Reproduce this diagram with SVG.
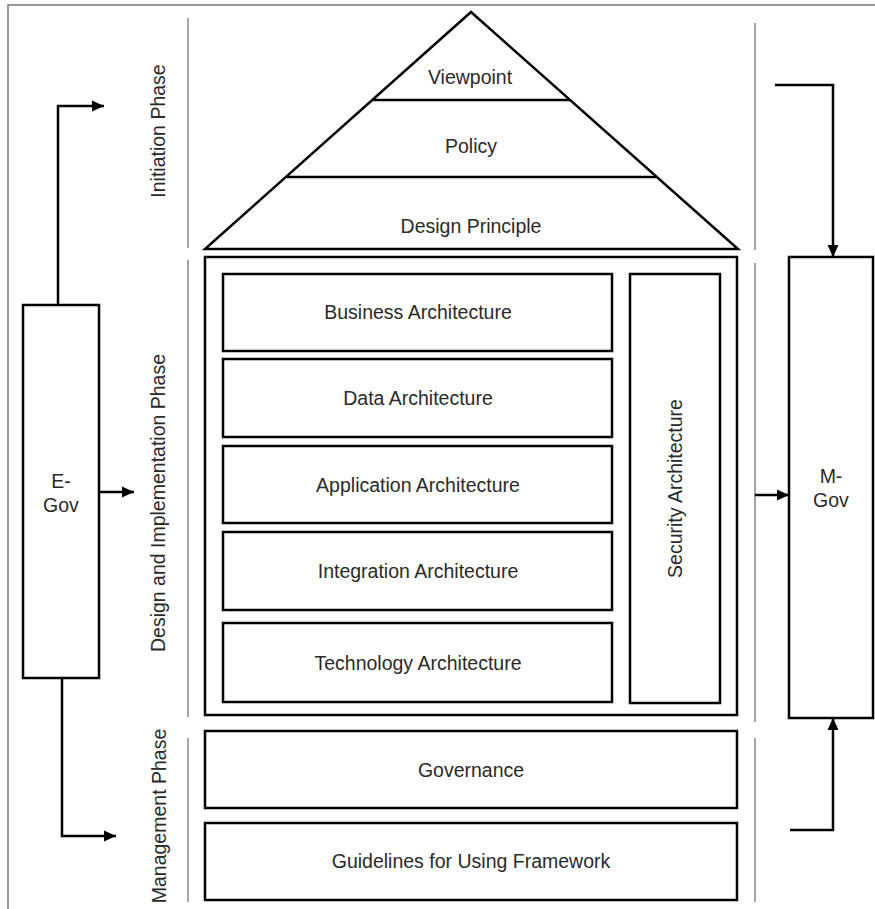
<svg xmlns="http://www.w3.org/2000/svg" width="875" height="909" viewBox="0 0 875 909">
  <style>
    .box { fill: #ffffff; stroke: #000000; stroke-width: 2.5; }
    .frame { fill: none; stroke: #777777; stroke-width: 1.5; }
    .sep { fill: none; stroke: #888888; stroke-width: 1.5; }
    .edge { fill: none; stroke: #000000; stroke-width: 2.5; }
    .lbl { font-family: "Liberation Sans", Arial, sans-serif; font-size: 19.5px; fill: #2a2a2a; text-anchor: middle; }
  </style>
  <defs>
    <marker id="arrow" markerUnits="userSpaceOnUse" markerWidth="14" markerHeight="14" viewBox="0 0 14 14" refX="12" refY="7" orient="auto">
      <path d="M0,1.5 L12,7 L0,12.5 Z" fill="#000000"/>
    </marker>
  </defs>

  <rect width="875" height="909" fill="#ffffff"/>

  <!-- outer frame (top and left edges) -->
  <path class="frame" d="M8,909 V5 H875"/>

  <!-- phase separators -->
  <g id="separators">
    <path class="sep" d="M188,18 V248 M188,260 V717 M188,738 V902"/>
    <path class="sep" d="M755,23 V250 M755,263 V722 M755,738 V902"/>
  </g>

  <!-- phase labels -->
  <g id="phase-labels">
    <text class="lbl" transform="translate(165,131) rotate(-90)">Initiation Phase</text>
    <text class="lbl" transform="translate(165,503) rotate(-90)">Design and Implementation Phase</text>
    <text class="lbl" transform="translate(166,816) rotate(-90)">Management Phase</text>
  </g>

  <!-- roof: viewpoint / policy / design principle -->
  <g id="roof">
    <polygon class="box" points="471,12 738,249 205,249"/>
    <line class="edge" x1="372" y1="100" x2="570" y2="100"/>
    <line class="edge" x1="287" y1="177" x2="656" y2="177"/>
    <text class="lbl" x="470" y="84">Viewpoint</text>
    <text class="lbl" x="471" y="153">Policy</text>
    <text class="lbl" x="471" y="233">Design Principle</text>
  </g>

  <!-- design and implementation block -->
  <g id="design-block">
    <rect class="box" x="205" y="257" width="532" height="458"/>
  </g>
  <g id="business">
    <rect class="box" x="223" y="274" width="389" height="77"/>
    <text class="lbl" x="418" y="319">Business Architecture</text>
  </g>
  <g id="data">
    <rect class="box" x="223" y="359" width="389" height="78"/>
    <text class="lbl" x="418" y="405">Data Architecture</text>
  </g>
  <g id="application">
    <rect class="box" x="223" y="446" width="389" height="77"/>
    <text class="lbl" x="418" y="491.5">Application Architecture</text>
  </g>
  <g id="integration">
    <rect class="box" x="223" y="532" width="389" height="78"/>
    <text class="lbl" x="418" y="578">Integration Architecture</text>
  </g>
  <g id="technology">
    <rect class="box" x="223" y="623" width="389" height="79"/>
    <text class="lbl" x="418" y="669.5">Technology Architecture</text>
  </g>
  <g id="security">
    <rect class="box" x="630" y="274" width="90" height="429"/>
    <text class="lbl" transform="translate(682,488.5) rotate(-90)">Security Architecture</text>
  </g>

  <!-- management block -->
  <g id="governance">
    <rect class="box" x="205" y="731" width="532" height="77"/>
    <text class="lbl" x="471" y="776.5">Governance</text>
  </g>
  <g id="guidelines">
    <rect class="box" x="205" y="823" width="532" height="77"/>
    <text class="lbl" x="471" y="868">Guidelines for Using Framework</text>
  </g>

  <!-- side nodes -->
  <g id="e-gov">
    <rect class="box" x="23" y="305" width="76" height="373"/>
    <text class="lbl" x="61" y="488">E-</text>
    <text class="lbl" x="61" y="512">Gov</text>
  </g>
  <g id="m-gov">
    <rect class="box" x="789" y="257" width="84" height="461"/>
    <text class="lbl" x="831" y="483">M-</text>
    <text class="lbl" x="831" y="507">Gov</text>
  </g>

  <!-- connectors -->
  <g id="connectors">
    <path class="edge" d="M58,305 V106 H104" marker-end="url(#arrow)"/>
    <path class="edge" d="M99,492 H134" marker-end="url(#arrow)"/>
    <path class="edge" d="M62,678 V836 H116" marker-end="url(#arrow)"/>
    <path class="edge" d="M775,85 H833 V257" marker-end="url(#arrow)"/>
    <path class="edge" d="M755,495 H789" marker-end="url(#arrow)"/>
    <path class="edge" d="M790,830 H833 V718" marker-end="url(#arrow)"/>
  </g>
</svg>
